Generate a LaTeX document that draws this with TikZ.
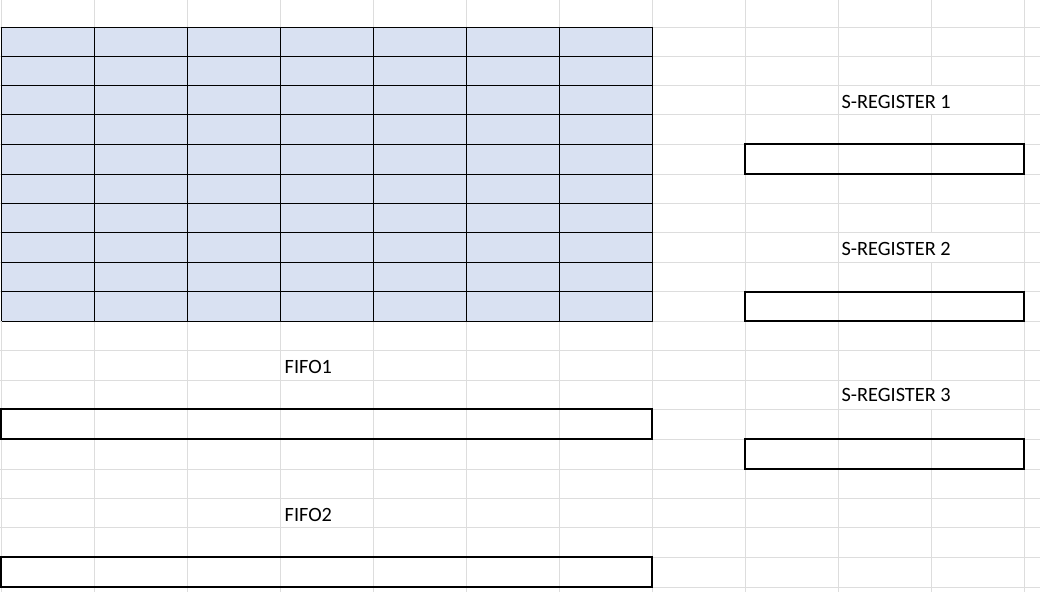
\documentclass[tikz,border=0pt]{standalone}
\usepackage{fontspec}
\setmainfont{Carlito}
\definecolor{gridgray}{HTML}{DDDDDD}
\definecolor{cellblue}{HTML}{D9E1F2}
\begin{document}
\begin{tikzpicture}[x=1pt,y=-1pt,
  gridline/.style={draw=gridgray, line width=1pt},
  cellline/.style={draw=black, line width=1pt},
  regbox/.style={draw=black, line width=2pt, inner sep=0pt, rectangle},
  lbl/.style={anchor=base west, inner sep=0pt, font=\fontsize{20.3}{24}\selectfont}]
\useasboundingbox (0,0) rectangle (1040,592);
\fill[white] (0,0) rectangle (1040,592);
% spreadsheet gridlines
\foreach \y in {27.3,56.3,85.3,114.3,144.3,174,203.3,232.7,262,291.5,321,350.3,380,409.3,439,469,498,527,557,587}
  \draw[gridline] (0,\y) -- (1040,\y);
\foreach \x in {1.5,94.5,187.5,280.5,373.5,466.5,559.5,652.5,745.5,838.5,1024.5}
  \draw[gridline] (\x,0) -- (\x,592);
% column line hidden behind the overflowing labels
\draw[gridline] (931.5,0) -- (931.5,85.3) (931.5,114.3) -- (931.5,232.7)
  (931.5,262) -- (931.5,380) (931.5,409.3) -- (931.5,592);
% blue table
\fill[cellblue] (1.5,27.3) rectangle (652.5,321);
\foreach \y in {27.3,56.3,85.3,114.3,144.3,174,203.3,232.7,262,291.5,321}
  \draw[cellline] (1.5,\y) -- (652.5,\y);
\foreach \x in {1.5,94.5,187.5,280.5,373.5,466.5,559.5,652.5}
  \draw[cellline] (\x,27.3) -- (\x,321);
% registers
\node[regbox, minimum width=279pt, minimum height=29.7pt] (sr1) at (884.8,159.15) {};
\node[regbox, minimum width=279pt, minimum height=29.5pt] (sr2) at (884.8,306.25) {};
\node[regbox, minimum width=279pt, minimum height=30pt] (sr3) at (884.8,454) {};
\node[regbox, minimum width=651.2pt, minimum height=29.7pt] (fifo1) at (326.7,424.15) {};
\node[regbox, minimum width=651.2pt, minimum height=30pt] (fifo2) at (326.7,572) {};
% labels
\node[lbl] (l1) at (841.5,108.3) {S-REGISTER 1};
\node[lbl] (l2) at (841.5,255) {S-REGISTER 2};
\node[lbl] (l3) at (841.5,401) {S-REGISTER 3};
\node[lbl] (lf1) at (284.5,373.3) {FIFO1};
\node[lbl] (lf2) at (284.5,521.7) {FIFO2};
\end{tikzpicture}
\end{document}
